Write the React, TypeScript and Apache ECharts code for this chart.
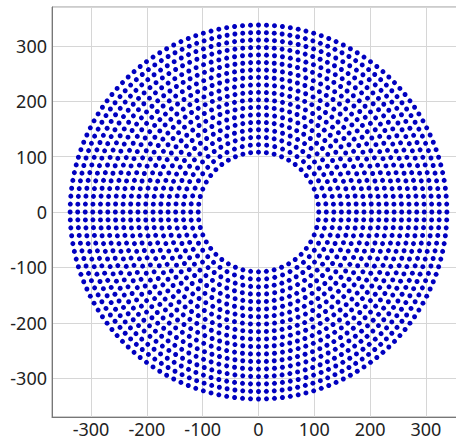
import React, { useEffect, useRef } from "react";
import * as echarts from "echarts";

// Ring radii (data units) and number of points on each ring
const ringRadii: number[] = [
  108, 121.5, 135, 148.5, 162, 175.5, 189, 202.5, 216, 229.5, 243, 256.5, 270,
  283.5, 297, 310.5, 324, 337.5,
];
const ringCounts: number[] = [
  48, 52, 60, 64, 72, 76, 84, 88, 96, 100, 108, 112, 120, 124, 132, 136, 144, 148,
];
const tickLabels: number[] = [-300, -200, -100, 0, 100, 200, 300];

function buildPoints(): number[][] {
  const pts: number[][] = [];
  ringRadii.forEach((r, i) => {
    const n = ringCounts[i];
    for (let j = 0; j < n; j++) {
      const a = (2 * Math.PI * j) / n;
      pts.push([r * Math.cos(a), r * Math.sin(a)]);
    }
  });
  return pts;
}

export default function App() {
  const ref = useRef<HTMLDivElement>(null);
  useEffect(() => {
    if (!ref.current) return;
    const chart = echarts.init(ref.current, undefined, { renderer: "svg" });
    const labelStyle = {
      color: "#222",
      fontSize: 18,
      fontFamily: "Noto Sans",
      showMinLabel: false,
      showMaxLabel: false,
      formatter: (v: number) => (tickLabels.includes(v) ? String(v) : ""),
    };
    chart.setOption({
      animation: false,
      grid: {
        left: 52,
        top: 7,
        bottom: 24,
        right: 5,
        show: true,
        borderColor: "#999",
        borderWidth: 1,
      },
      xAxis: {
        type: "value",
        min: -370,
        max: 370,
        splitNumber: 7,
        axisLine: { show: true, onZero: false, lineStyle: { color: "#777" } },
        axisTick: { show: false },
        splitLine: { show: true, lineStyle: { color: "#d6d6d6" } },
        axisLabel: { ...labelStyle, margin: 3 },
      },
      yAxis: {
        type: "value",
        min: -370,
        max: 370,
        splitNumber: 7,
        axisLine: { show: true, onZero: false, lineStyle: { color: "#777" } },
        axisTick: { show: false },
        splitLine: { show: true, lineStyle: { color: "#d6d6d6" } },
        axisLabel: { ...labelStyle, margin: 5 },
      },
      series: [
        {
          type: "scatter",
          data: buildPoints(),
          symbol: "circle",
          symbolSize: 5,
          itemStyle: { color: "#0000c0", opacity: 1 },
        },
      ],
    });
    return () => chart.dispose();
  }, []);
  return (
    <div
      style={{
        position: "fixed",
        left: 0,
        top: 0,
        width: 456,
        height: 441,
        overflow: "hidden",
        background: "#fff",
      }}
    >
      <div ref={ref} style={{ width: 470, height: 441 }} />
    </div>
  );
}
